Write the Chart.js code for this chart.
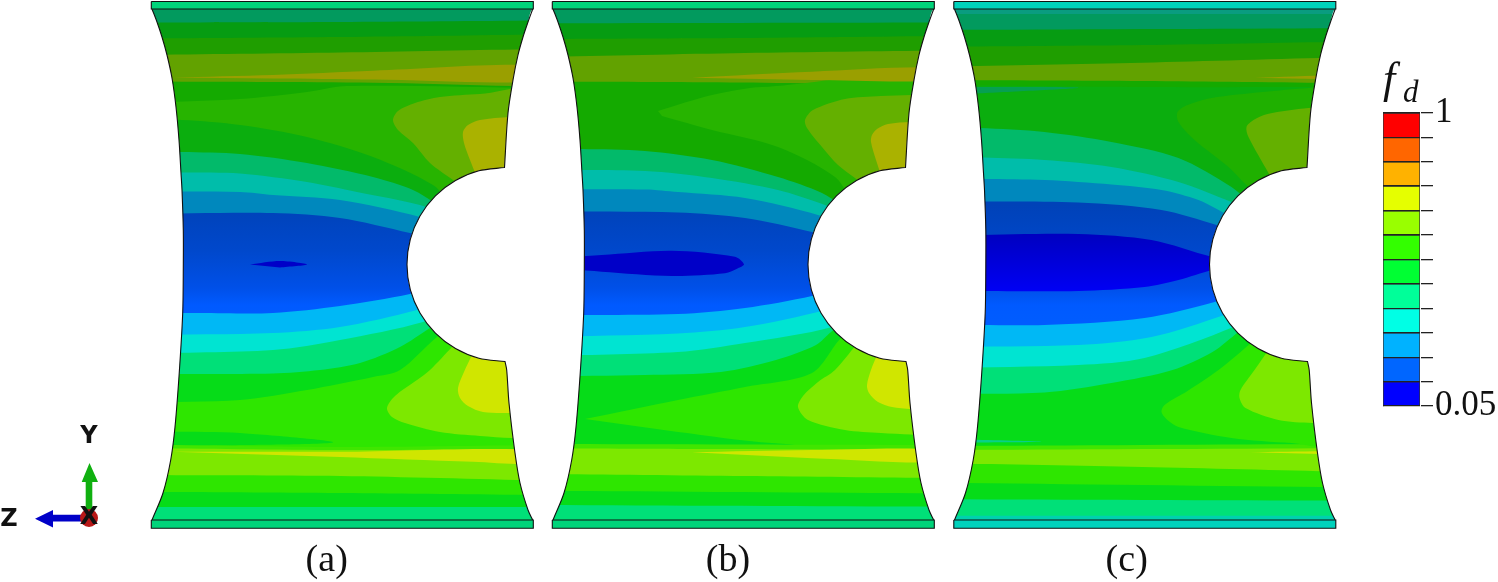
<!DOCTYPE html>
<html>
<head>
<meta charset="utf-8">
<title>Damage contours</title>
<script src="https://cdn.jsdelivr.net/npm/chart.js@4"></script>
<style>
html, body { margin: 0; padding: 0; background: #fff; overflow: hidden; }
canvas { position: absolute; }
#plot { left: 0; top: 0; }
#legendBar { left: 1383px; top: 89px; }
</style>
</head>
<body>
<canvas id="plot" width="1498" height="582"></canvas>
<canvas id="legendBar" width="115" height="341"></canvas>
<script>
// values
var panelNames = ["(a)", "(b)", "(c)"];
var panelShift = [140, 541, 942.5];
var triadNames = ["X", "Y", "Z"];
var legendLevels = [0.05, 0.129, 0.208, 0.2875, 0.367, 0.446, 0.525, 0.604, 0.683, 0.763, 0.842, 0.921, 1];
var legendColors = ["#0000ff", "#0066ff", "#00b2ff", "#00ffe5", "#00ff99", "#00ff33", "#33ff00", "#99ff00", "#e5ff00", "#ffb200", "#ff6600", "#ff0000"];

// specimen outline, same for all three panels
var leftEdge = [[12,9],[17,22],[22,37],[27,55],[32,78],[36,107],[39,140],[41,173],[42,190],[43.3,230],[43.3,267],[42.7,313],[39.3,372],[35,427],[30.7,460],[23,493],[12,520]];
var rightTop = [[392.7,9],[388,22],[383,37],[378,55],[373,80],[368,113],[364.5,167.5]];
var notch = [[338.9,170.8],[315.5,180.5],[295.4,195.9],[280,216],[270.3,239.4],[267,264.5],[270.3,289.6],[280,313],[295.4,333.1],[315.5,348.5],[338.9,358.2]];
var rightBottom = [[365,361.5],[366.7,370],[369,403],[375,453],[380,483],[388,510],[392.7,520]];

// "b" = band, filled from its curve down to the foot; "p" = closed patch
var panelA = [
	["b", "sea", [[0,9],[400,9]]],
	["b", "leaf", [[0,22.5],[200,22],[400,20.5]]],
	["b", "moss", [[0,38.5],[200,37],[400,34.5]]],
	["b", "olive", [[0,55],[200,52.5],[400,49]]],
	["b", "forest", [[0,81.5],[233,82.7],[372,86],[400,86.5]]],
	["b", "grass", [[0,103],[100,99],[167,92],[207,86],[400,88]]],
	["b", "emerald", [[0,120],[42,120],[100,125],[167,137],[233,157],[293,185],[320,210]]],
	["b", "jade", [[0,152],[42,152],[100,154],[167,163],[233,177],[273,190],[320,215]]],
	["b", "teal", [[0,172],[42,172.5],[100,173.5],[167,182],[217,192],[280,205],[320,220]]],
	["b", "steel", [[0,191.5],[100,192],[133,195],[200,200],[280,217],[320,232]]],
	["b", "blue", [[0,214],[133,213],[200,218],[270,233],[320,245]]],
	["b", "sky", [[0,313],[60,313],[133,313],[200,306],[270,294],[320,280]]],
	["b", "cyan", [[0,335],[133,333],[200,327],[277,310],[320,295]]],
	["b", "mint", [[0,353.5],[133,350],[200,340],[283,322],[320,305]]],
	["b", "green", [[0,374],[133,373.5],[180,370],[220,363],[260,347],[290,328],[320,310]]],
	["b", "light", [[0,402.5],[100,400],[167,390],[233,377],[260,370],[297,337],[330,315]]],
	["p", "green", [[30,431.5],[100,433],[193,442.5],[30,446]]],
	["b", "bright", [[0,444.5],[200,447],[400,445]]],
	["b", "lime", [[0,448],[200,450],[400,449]]],
	["b", "light", [[0,475],[200,476],[400,480.5]]],
	["b", "green", [[0,491.7],[200,493],[400,495]]],
	["b", "mint", [[0,507],[400,507]]],
	["p", "mustard", [[33,77.5],[133,75],[233,70.7],[400,65.5],[400,81],[233,79.5],[133,78.5]]],
	["p", "khaki", [[320,185],[313,180],[290,163],[273,143],[258,130],[253,120],[258,111],[275,103],[300,97],[340,94],[400,91],[400,190]]],
	["p", "ochre", [[336,175],[330,160],[324,143],[323,132],[328,125],[340,120],[370,117],[400,117],[400,175]]],
	["p", "navy", [[110,264.5],[140,261],[167,264.5],[140,267.5]]],
	["p", "lime", [[312,347],[290,370],[277,380],[255,396],[247,408],[252,417],[265,423],[300,432],[340,436],[372,438],[400,438],[400,340]]],
	["p", "yellow", [[332,355],[324,372],[318,388],[320,398],[328,406],[343,412],[370,413],[400,413],[400,340]]],
	["p", "yellow", [[33,451.7],[200,451.7],[400,450],[400,463],[333,461.7],[200,457]]]
];

var panelB = [
	["b", "sea", [[0,9],[400,9]]],
	["b", "leaf", [[0,23.3],[400,22.5]]],
	["b", "moss", [[0,39],[200,38],[400,36]]],
	["b", "olive", [[0,57],[204,53],[400,50.5]]],
	["b", "forest", [[0,81.5],[200,82.5],[400,85.5]]],
	["p", "grass", [[117,111],[171,95],[221,87],[400,86],[400,230],[320,210],[294,177],[237,147],[171,130],[121,116]]],
	["b", "jade", [[0,149],[40,149],[104,151],[171,160],[237,177],[281,193],[320,215]]],
	["b", "teal", [[0,170],[104,171],[171,178],[237,190],[284,205],[320,220]]],
	["b", "steel", [[0,189.5],[104,189.5],[137,192],[204,198],[277,215],[320,232]]],
	["b", "blue", [[0,211.5],[137,212.5],[204,218],[271,232],[320,245]]],
	["b", "sky", [[0,315],[137,314],[204,308],[271,296],[320,282]]],
	["b", "cyan", [[0,337],[137,333.5],[204,327],[284,310],[320,295]]],
	["b", "mint", [[0,356],[137,352],[204,343],[291,327],[320,310]]],
	["b", "green", [[0,376.5],[104,375],[180,372],[235,360],[275,345],[290,332],[320,310]]],
	["p", "light", [[44,419],[137,400],[204,387],[271,373],[301,337],[340,310],[400,310],[400,446],[231,443],[137,432]]],
	["b", "bright", [[0,444],[400,445]]],
	["b", "lime", [[0,448.3],[155,449],[400,449.3]]],
	["b", "light", [[0,474],[204,476],[400,478]]],
	["b", "green", [[0,490.7],[400,493.3]]],
	["b", "mint", [[0,505],[400,506.7]]],
	["p", "mustard", [[151,77.7],[271,71.7],[400,68],[400,80],[271,80]]],
	["p", "navy", [[30,257],[60.7,255],[130.7,250.7],[194,256.7],[203,264.3],[197,268.3],[184,273.3],[130.7,276],[60.7,271.7],[30,269]]],
	["p", "khaki", [[322,185],[314,178],[297,165],[281,147],[266,128],[264,120],[272,110],[304,99],[340,96],[370,95],[400,94],[400,190]]],
	["p", "ochre", [[340,175],[335,160],[330,142],[331,135],[336,129],[347,124],[370,122],[400,122],[400,175]]],
	["p", "lime", [[315,345],[294,370],[277,382],[262,396],[257,407],[267,420],[304,430],[340,433],[370,434.5],[400,435],[400,340]]],
	["p", "yellow", [[336,355],[330,370],[326,385],[328,393],[337,402],[351,407],[370,409],[400,409],[400,340]]],
	["p", "yellow", [[151,452.3],[271,450],[400,450],[400,462],[271,458.3]]]
];

var panelC = [
	["b", "deepTeal", [[0,9],[400,9]]],
	["b", "sea", [[0,14],[400,14]]],
	["b", "leaf", [[0,30],[400,28.3]]],
	["b", "moss", [[0,46.7],[200,45],[400,41.7]]],
	["b", "olive", [[0,66.7],[200,62.7],[400,57.3]]],
	["b", "forest", [[0,80],[200,81],[400,83]]],
	["b", "emerald", [[0,85],[200,87],[400,87]]],
	["p", "pine", [[25,87],[136,87.7],[37,93.3],[25,94]]],
	["b", "jade", [[0,128],[37,128],[102,132],[169,142],[236,158],[289,187],[320,210]]],
	["b", "teal", [[0,157],[41,157.5],[102,160],[169,167],[236,182],[289,202],[320,215]]],
	["b", "steel", [[0,179],[42,179],[102,180],[169,184.5],[219,190],[256,200],[282,213],[320,230]]],
	["b", "blue", [[0,201.5],[136,202.5],[219,210],[274,225],[320,240]]],
	["p", "ink", [[30,235],[136,234],[209,240],[270,257],[300,262],[300,265],[270,270],[236,280],[202,287],[136,291],[30,291]]],
	["b", "sky", [[0,324.5],[102,325],[202,318],[272,302],[320,285]]],
	["b", "cyan", [[0,347],[136,345],[209,337],[282,315],[320,300]]],
	["b", "mint", [[0,368],[136,365],[202,358],[291,327],[320,310]]],
	["b", "green", [[0,394],[102,392.5],[169,383],[230,370],[270,352],[296,332],[320,315]]],
	["p", "pine2", [[25,439.5],[99,441.7],[25,442.5]]],
	["b", "bright", [[0,446],[400,444]]],
	["b", "lime", [[0,450],[400,448.3]]],
	["b", "light", [[0,463.3],[200,467],[400,471.7]]],
	["b", "green", [[0,482.7],[400,487.3]]],
	["b", "mint", [[0,499.3],[400,500.7]]],
	["b", "deepCyan", [[0,515.7],[400,515.7]]],
	["p", "mustard", [[312.5,77.7],[400,75.5],[400,79.5]]],
	["p", "khaki2", [[325,200],[306,187],[286,167],[252,140],[236,122],[235,112],[245,105],[269,98],[320,92],[366,88],[400,86],[400,200]]],
	["p", "khaki", [[330,180],[326,173],[306,137],[304,127],[311,120],[325,114],[366,108],[400,107],[400,180]]],
	["p", "light", [[312,338],[306,345],[276,370],[245,391],[222,405],[219,412],[225,420],[236,427],[289,438],[349,443],[400,444],[400,340]]],
	["p", "lime", [[326,350],[312,370],[298,390],[297,398],[303,408],[336,420],[370,423],[400,423],[400,340]]],
	["p", "yellow", [[307.5,452.3],[400,451.5],[400,454.5]]]
];

var plateShades = ["plateGreen", "plateGreen", "plateCyan"];
var plateTop = [[11.3,1.5],[393.3,1.5],[393.3,9],[11.3,9],[11.3,1.5]];
var plateBottom = [[11.3,520],[393.3,520],[393.3,528.3],[11.3,528.3],[11.3,520]];

// view triad at the lower left
var arrowY = [[85.7,518],[85.7,482],[81.7,482],[89.5,463],[98,482],[92.3,482],[92.3,518],[85.7,518]];
var arrowZ = [[88,514.7],[53,514.7],[53,510],[35,518.7],[53,527.5],[53,521.5],[88,521.5],[88,514.7]];
var triadDot = [[89,518]];

var canvas = document.getElementById("plot");
var ctx = canvas.getContext("2d");

var blueFade = ctx.createLinearGradient(0, 205, 0, 320);
blueFade.addColorStop(0, "#0042b8");
blueFade.addColorStop(0.4, "#0048cc");
blueFade.addColorStop(0.72, "#0050e8");
blueFade.addColorStop(0.87, "#005aff");
blueFade.addColorStop(1, "#005cff");

var inkFade = ctx.createLinearGradient(0, 234, 0, 291);
inkFade.addColorStop(0, "#0000c0");
inkFade.addColorStop(1, "#0000f4");

var shades = {
	plateGreen: "#00d47a", plateCyan: "#00d2bc",
	deepTeal: "#0a9c80", deepCyan: "#00d0ae",
	sea: "#029a5e", leaf: "#069c12", moss: "#1f9e00", olive: "#62a200", mustard: "#9a9f00",
	forest: "#14aa00", grass: "#27b400", emerald: "#0bae0e", pine: "#06a052", pine2: "#08d088",
	jade: "#02ba6a", teal: "#00bdaa", steel: "#0088bd",
	blue: blueFade, ink: inkFade, navy: "#0000c8",
	sky: "#00b8f5", cyan: "#00e4d2", mint: "#00e078",
	green: "#06dc18", light: "#2ee600", bright: "#40e600", lime: "#7de800", yellow: "#d0e600",
	khaki: "#64b000", khaki2: "#1fb000", ochre: "#aab200"
};

function shifted(pts, dx) {
	return pts.map(function(p) { return { x: p[0] + dx, y: p[1] }; });
}

function twice(p) {
	return [p, p];
}

var sets = [];

function addShape(pts, dx, fillColor, tension) {
	sets.push({
		data: shifted(pts, dx),
		showLine: true,
		fill: "shape",
		backgroundColor: fillColor,
		borderWidth: 0,
		pointRadius: 0,
		tension: tension
	});
}

function addLine(pts, dx, tension) {
	sets.push({
		data: shifted(pts, dx),
		showLine: true,
		fill: false,
		borderColor: "#111",
		borderWidth: 1.1,
		pointRadius: 0,
		tension: tension
	});
}

[panelA, panelB, panelC].forEach(function(list, n) {
	var dx = panelShift[n];

	list.forEach(function(item) {
		var pts = item[2];
		if (item[0] == "b") {
			var last = pts[pts.length - 1];
			pts = pts.concat(
				last[0] < 400 ? [[400, last[1]], [400, last[1]]] : twice(last),
				twice([400, 521]),
				twice([0, 521])
			);
		}
		addShape(pts, dx, shades[item[1]], 0.3);
	});

	// white areas around the specimen, a little wider than the panel
	var leftMask = twice([-6, 8]).concat(twice(leftEdge[0]), leftEdge.slice(1, -1), twice(leftEdge[leftEdge.length - 1]), twice([11, 524]), twice([-6, 524]));
	var rightOutline = rightTop.slice(0, -1).concat(twice(rightTop[rightTop.length - 1]), notch, twice(rightBottom[0]), rightBottom.slice(1));
	var rightMask = twice([410, 8]).concat(rightOutline, twice([394, 524]), twice([410, 524]));
	addShape(leftMask, dx, "#fff", 0.3);
	addShape(rightMask, dx, "#fff", 0.3);
	addLine(leftEdge, dx, 0.3);
	addLine(rightOutline, dx, 0.3);

	// end plates
	[plateTop, plateBottom].forEach(function(plate) {
		addShape(plate, dx, shades[plateShades[n]], 0);
		addLine(plate, dx, 0);
	});
});

addShape(arrowY, 0, "#10b010", 0);
addShape(arrowZ, 0, "#0000c8", 0);
sets.push({
	data: shifted(triadDot, 0),
	showLine: false,
	pointRadius: 9,
	pointBorderWidth: 0,
	pointBackgroundColor: "#b81818"
});

// first dataset in the sort order ends up on top
sets.forEach(function(d, i) { d.order = sets.length - i; });

var labelPlugin = {
	id: "labelPlugin",
	afterDraw: function(chart) {
		var c = chart.ctx;
		var sx = chart.scales.x;
		var sy = chart.scales.y;

		function put(text, x, y, font, align, base) {
			c.font = font;
			c.textAlign = align;
			c.textBaseline = base;
			c.fillStyle = "#111";
			c.fillText(text, sx.getPixelForValue(x), sy.getPixelForValue(y));
		}

		var serif = '"Liberation Serif", serif';
		var sans = '"DejaVu Sans", sans-serif';
		put(panelNames[0], 326.7, 561.5, "38px " + serif, "center", "middle");
		put(panelNames[1], 728, 561.5, "38px " + serif, "center", "middle");
		put(panelNames[2], 1126.7, 561.5, "38px " + serif, "center", "middle");

		put(triadNames[0], 89, 518, "bold 24px " + sans, "center", "middle");
		put(triadNames[1], 89, 437, "bold 24px " + sans, "center", "middle");
		put(triadNames[2], 9, 519.5, "bold 24px " + sans, "center", "middle");

		put("f", 1383, 93, "italic 44px " + serif, "left", "alphabetic");
		put("d", 1403, 101.5, "italic 31px " + serif, "left", "alphabetic");
	}
};

new Chart(ctx, {
	type: "scatter",
	data: { datasets: sets },
	options: {
		responsive: false,
		animation: false,
		devicePixelRatio: 1,
		events: [],
		layout: { padding: 0, autoPadding: false },
		plugins: { legend: { display: false }, tooltip: { enabled: false } },
		scales: {
			x: { type: "linear", display: false, min: 0, max: 1498 },
			y: { type: "linear", display: false, min: 0, max: 582, reverse: true }
		}
	},
	plugins: [labelPlugin]
});

// colour scale
var barSets = legendColors.map(function(color, i) {
	return {
		data: [[legendLevels[i], legendLevels[i + 1]]],
		backgroundColor: color,
		borderColor: "#333",
		borderWidth: 1,
		grouped: false,
		barPercentage: 1,
		categoryPercentage: 1
	};
});

new Chart(document.getElementById("legendBar"), {
	type: "bar",
	data: { labels: ["f_d"], datasets: barSets },
	options: {
		responsive: false,
		animation: false,
		devicePixelRatio: 1,
		events: [],
		layout: { padding: { top: 24, bottom: 24, left: 0, right: 0 } },
		plugins: { legend: { display: false }, tooltip: { enabled: false } },
		scales: {
			x: { display: false },
			y: {
				position: "right",
				min: 0.05,
				max: 1,
				afterFit: function(scale) { scale.width = 78; },
				afterBuildTicks: function(scale) {
					scale.ticks = legendLevels.map(function(v) { return { value: v }; });
				},
				border: { display: true, color: "#333" },
				grid: { color: "#222", lineWidth: 1.3, tickLength: 13, z: 1 },
				ticks: {
					autoSkip: false,
					padding: 2,
					color: "#111",
					font: { family: "Liberation Serif", size: 35 },
					callback: function(v) {
						if (v == 1) return "1";
						if (v == 0.05) return "0.05";
						return "";
					}
				}
			}
		}
	}
});
</script>
</body>
</html>
